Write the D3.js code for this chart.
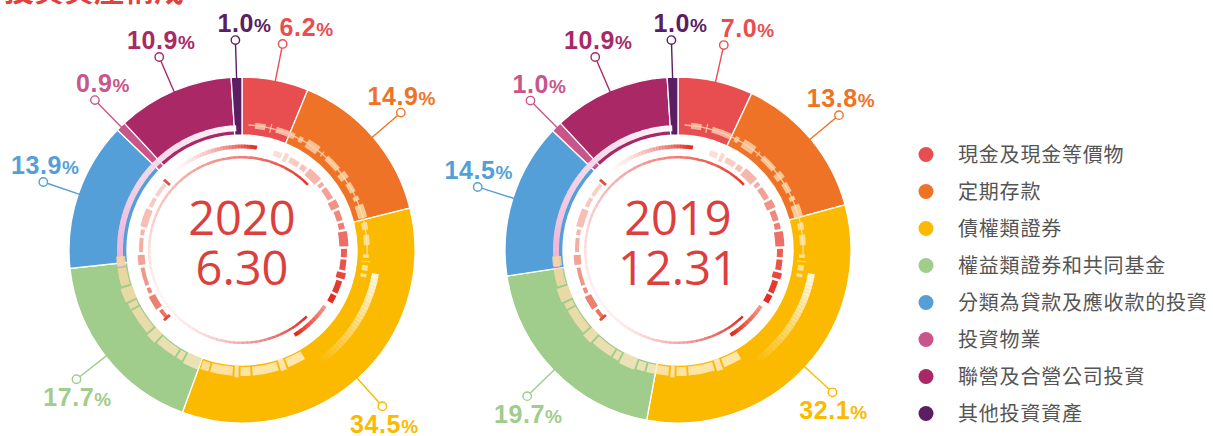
<!DOCTYPE html>
<html><head><meta charset="utf-8">
<script src="https://cdn.jsdelivr.net/npm/d3@7"></script>
<style>html,body{margin:0;padding:0;background:#fff;}svg{display:block;}</style>
</head><body>
<svg id="chart" width="1213" height="436"></svg>
<script>
const title = "投資資產構成";
const categories = ["現金及現金等價物","定期存款","債權類證券","權益類證券和共同基金","分類為貸款及應收款的投資","投資物業","聯營及合營公司投資","其他投資資產"];
const values2020 = [6.2,14.9,34.5,17.7,13.9,0.9,10.9,1.0];
const values2019 = [7.0,13.8,32.1,19.7,14.5,1.0,10.9,1.0];
const periodYears = ["2020","2019"];
const periodDates = ["6.30","12.31"];
const colors = ["#e84e4f","#ee7326","#fbb900","#a0cc8c","#559fd8","#c8568a","#a92865","#5b1e62"];

const svg = d3.select("#chart");
const R_OUT = 173, R_IN = 115, R_DOT = 210;
const deg = Math.PI/180;

// title (cut off at top)
svg.append("text").attr("x",4).attr("y",1).attr("font-family","Noto Sans CJK TC").attr("font-weight","bold")
  .attr("font-size",30).attr("fill","#e0413d").text(title);

function gradArc(g, r0, r1, a0, a1, c0, c1, o0, o1, n){
  const arc = d3.arc();
  const ci = d3.interpolateRgb(c0,c1), oi = d3.interpolateNumber(o0,o1);
  for(let i=0;i<n;i++){
    const t0=i/n, t1=(i+1)/n;
    g.append("path").attr("d",arc({innerRadius:r0,outerRadius:r1,startAngle:(a0+(a1-a0)*t0)*deg,endAngle:(a0+(a1-a0)*t1+0.3*Math.sign(a1-a0))*deg}))
      .attr("fill",ci((t0+t1)/2)).attr("opacity",oi((t0+t1)/2));
  }
}
function dashArc(g, r0, r1, a0, a1, pieces, gap, c0, c1, o0, o1){
  const arc = d3.arc();
  const ci = d3.interpolateRgb(c0,c1), oi = d3.interpolateNumber(o0,o1);
  const total = pieces.reduce((s,v)=>s+v,0);
  let acc=0;
  pieces.forEach((p,i)=>{
    const s = a0 + (a1-a0)*acc/total, e = a0 + (a1-a0)*(acc+p)/total - gap;
    const t=(acc+p/2)/total;
    const rr = (i%3===1)? 1.5:0;
    g.append("path").attr("d",arc({innerRadius:r0-rr,outerRadius:r1+rr,startAngle:s*deg,endAngle:e*deg}))
      .attr("fill",ci(t)).attr("opacity",oi(t));
    acc+=p;
  });
}

function donut(cx, cy, values, year, date, nudges){
  const g = svg.append("g").attr("transform",`translate(${cx},${cy})`);
  const pie = d3.pie().sort(null).value(d=>d)(values);
  const arc = d3.arc().innerRadius(R_IN).outerRadius(R_OUT);
  g.selectAll("path.seg").data(pie).join("path").attr("class","seg")
    .attr("d",arc).attr("fill",(d,i)=>colors[i]).attr("stroke","#fff").attr("stroke-width",1.3);

  const dec = g.append("g");
  // pink band over blue/magenta
  gradArc(dec,119,125,262,357,"#eeb0d8","#ffffff",1,0.95,40);
  // peach dotted line on right
  gradArc(dec,124.5,125.8,3,92,"#fbd0b8","#fde3a8",0.9,0.9,20);
  dashArc(dec,122,128,6,90,[5,2,8,3,6,2,7,4,5,3,6,4,5],2.2,"#fcc9b0","#fde6b0",0.8,0.8);
  // beige blocks band bottom-left
  dashArc(dec,117,126,150,268,[10,4,14,6,3,12,5,9,4,12,6,14,4,8,10,6],0.9,"#fff3d8","#f5d7a0",0.8,0.85);
  // small yellow dashes near 95deg
  dashArc(dec,121,127,92,104,[3,2,4,3],1.5,"#fde7a0","#fde7a0",0.9,0.9);
  // white glow on yellow
  gradArc(dec,132,139,100,145,"#ffffff","#ffffff",0.85,0,30);
  // inner red arcs
  gradArc(dec,101.5,105.5,-42,8,"#ffffff","#e3261c",0.2,1,30);
  dashArc(dec,99,105,18,122,[5,3,6,4,8,3,7,5,6,4,8,5,6,4,7,5],1.4,"#fce0d6","#e3261c",0.9,1);
  gradArc(dec,91.5,94,205,405,"#ffffff","#e8352a",0.2,1,60);
  gradArc(dec,91.5,94,245,136,"#ffffff","#e3261c",0.1,1,40);
  gradArc(dec,98,102,124,148,"#f0705a","#e3261c",0.7,1,10);
  dashArc(dec,99,103,228,312,[3,4,2,5,3,4,2,5,3,4],1.6,"#e8604c","#f3a898",0.9,0.5);
  const capArc = d3.arc();
  [228,312].forEach(a=>{
    dec.append("path").attr("d",capArc({innerRadius:97,outerRadius:105,startAngle:(a-0.8)*deg,endAngle:(a+0.8)*deg})).attr("fill","#e8493a");
  });

  // leader lines and labels
  pie.forEach((d,i)=>{
    const a = (d.startAngle+d.endAngle)/2;
    const sx=Math.sin(a), sy=-Math.cos(a);
    const px = R_DOT*sx, py = R_DOT*sy;
    g.append("line").attr("x1",(R_OUT-3)*sx).attr("y1",(R_OUT-3)*sy).attr("x2",(R_DOT-4)*sx).attr("y2",(R_DOT-4)*sy)
      .attr("stroke",colors[i]).attr("stroke-width",1.4);
    g.append("circle").attr("cx",px).attr("cy",py).attr("r",4.2).attr("fill","#fff").attr("stroke",colors[i]).attr("stroke-width",1.4);
    const upper = Math.cos(a) > -0.2;
    const t = g.append("text").attr("x",px+nudges[i]).attr("y",upper? py-8 : py+27)
      .attr("text-anchor","middle").attr("font-family","Liberation Sans, Arial, sans-serif").attr("font-weight","bold")
      .attr("fill",colors[i]).attr("letter-spacing",0.6);
    t.append("tspan").attr("font-size",25).text(d3.format(".1f")(d.data));
    t.append("tspan").attr("font-size",19).text("%");
  });

  g.append("text").attr("y",-15).attr("text-anchor","middle").attr("font-family","Open Sans, Noto Sans, sans-serif")
    .attr("font-size",47).attr("fill","#dc3f3c").text(year);
  g.append("text").attr("y",35).attr("text-anchor","middle").attr("font-family","Open Sans, Noto Sans, sans-serif")
    .attr("font-size",47).attr("fill","#dc3f3c").text(date);
}

donut(242, 250, values2020, periodYears[0], periodDates[0], [24,1,2,1,2,8,2,9]);
donut(678, 250, values2019, periodYears[1], periodDates[1], [24,2,1,1,1,9,3,9]);

// legend
const lg = svg.append("g");
categories.forEach((c,i)=>{
  const y = 154.5 + i*37;
  lg.append("circle").attr("cx",926).attr("cy",y).attr("r",7.5).attr("fill",colors[i]);
  lg.append("text").attr("x",958).attr("y",y).attr("dy","0.36em").attr("font-family","Noto Sans CJK TC")
    .attr("font-size",20).attr("letter-spacing",0.8).attr("fill","#555").text(c);
});
</script>
</body></html>
